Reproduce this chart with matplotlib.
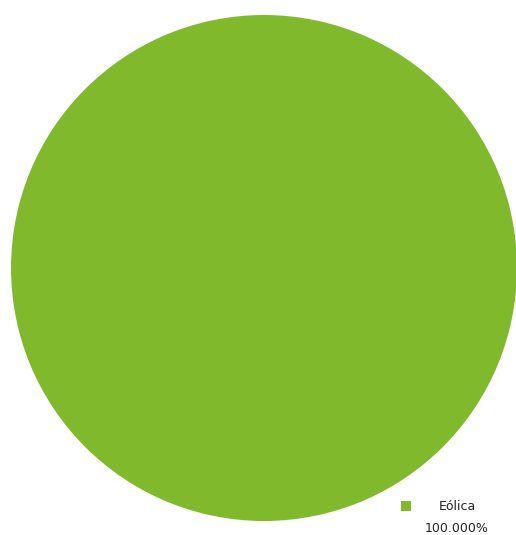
import matplotlib
matplotlib.use("Agg")
import matplotlib.pyplot as plt
from matplotlib.patches import Patch

# Data
labels = ["Eólica"]
values = [100.0]
colors = ["#80b92c"]

W, H = 516, 535
fig = plt.figure(figsize=(W / 100, H / 100), dpi=100)
ax = fig.add_axes([0, 0, 1, 1])

# pie drawn in pixel-like coordinates so it can be placed like the reference
ax.pie(values, colors=colors, center=(264, 268), radius=253,
       startangle=90, counterclock=False,
       wedgeprops=dict(linewidth=0))
ax.set_xlim(0, W)
ax.set_ylim(H, 0)
ax.set_aspect("equal")
ax.axis("off")

# legend with the share underneath
fs = 9
total = sum(values)
handles = [Patch(facecolor=c, edgecolor="none") for c in colors]
leg = ax.legend(handles, labels, loc="center left",
                bbox_to_anchor=(401 / W, 1 - 507 / H),
                bbox_transform=fig.transFigure,
                frameon=False, fontsize=fs,
                handlelength=0.8, handleheight=0.8,
                handletextpad=2.2, borderpad=0, borderaxespad=0)
for t in leg.get_texts():
    t.set_color("#222222")
for v in values:
    fig.text(457 / W, 1 - 528 / H, f"{v / total * 100:.3f}%",
             ha="center", va="center", fontsize=fs, color="#222222")

fig.savefig("out.png", dpi=100)
